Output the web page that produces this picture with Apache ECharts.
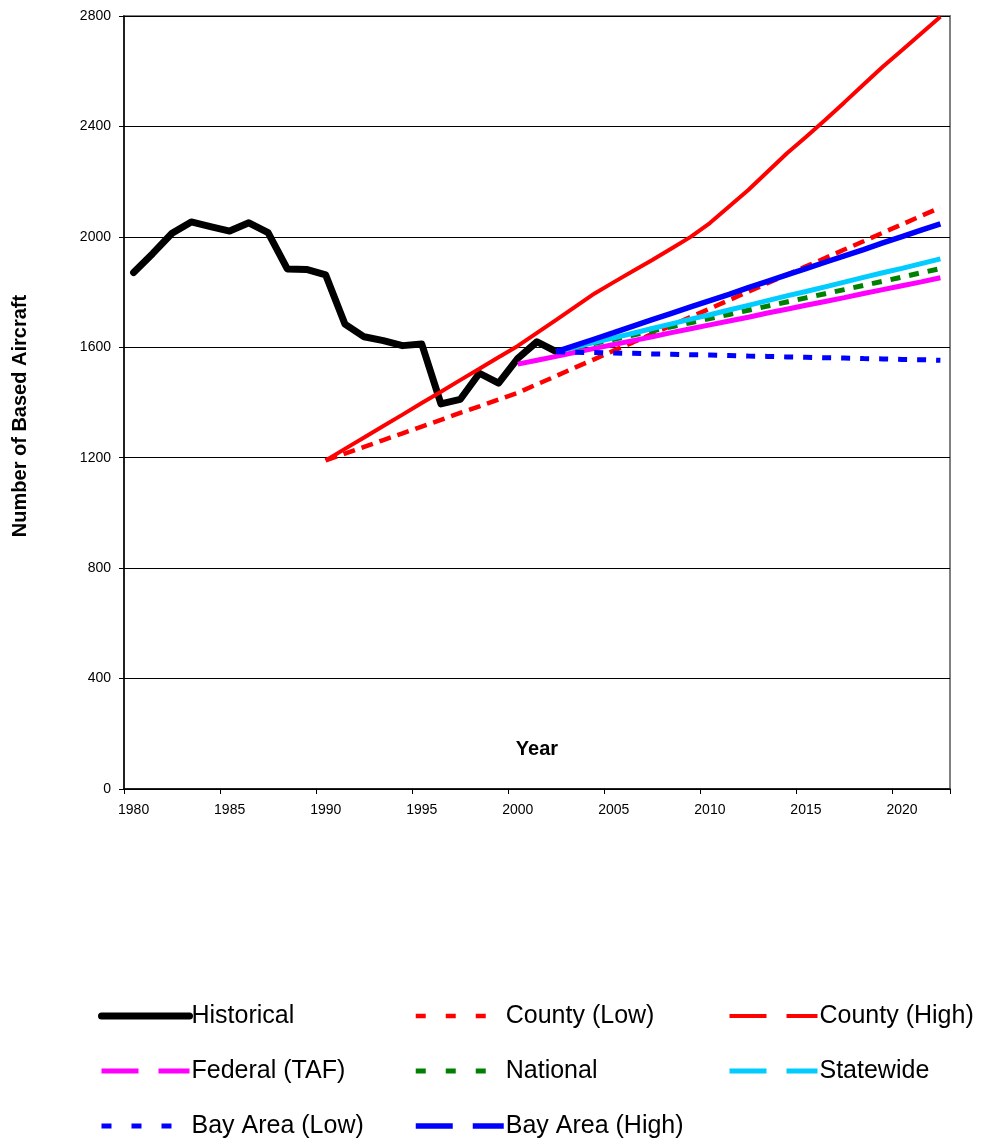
<!DOCTYPE html>
<html>
<head>
<meta charset="utf-8">
<script src="https://cdn.jsdelivr.net/npm/echarts@6/dist/echarts.min.js"></script>
<style>
html,body{margin:0;padding:0;background:#fff;}
#chart{width:986px;height:1142px;}
</style>
</head>
<body>
<div id="chart"></div>
<script>
const years = ['1980','1981','1982','1983','1984','1985','1986','1987','1988','1989',
  '1990','1991','1992','1993','1994','1995','1996','1997','1998','1999',
  '2000','2001','2002','2003','2004','2005','2006','2007','2008','2009',
  '2010','2011','2012','2013','2014','2015','2016','2017','2018','2019',
  '2020','2021','2022'];
const yTicks = [0, 400, 800, 1200, 1600, 2000, 2400, 2800];

// 1980-2002
const historical = [1871,1940,2013,2054,2037,2021,2051,2015,1884,1882,
  1862,1684,1638,1624,1606,1612,1395,1411,1506,1470,1560,1620,1584];
// 1990-2022
const countyLow = [1190,1215,1239,1264,1288,1313,1337,1362,1386,1411,
  1435,1466,1496,1527,1557,1588,1618,1649,1679,1710,1740,1771,1801,1832,
  1862,1893,1923,1954,1984,2015,2045,2076,2106];
// 1990-2022
const countyHigh = [1190,1232,1273,1315,1356,1398,1439,1481,1522,1564,
  1605,1652,1699,1747,1795,1836,1876,1916,1958,2000,2050,2110,2170,2236,
  2302,2362,2423,2487,2552,2616,2676,2737,2797];
// 2000-2022
const federal = [1539,1553,1567,1582,1596,1610,1624,1638,1653,1667,1681,
  1695,1709,1724,1738,1752,1766,1780,1795,1809,1823,1837,1852];
// 2002-2022
const national = [1584,1599,1614,1629,1644,1659,1674,1689,1704,1719,1734,
  1749,1764,1779,1794,1809,1824,1839,1854,1870,1885];
const statewide = [1584,1601,1618,1634,1651,1668,1685,1702,1718,1735,1752,
  1769,1786,1802,1819,1836,1853,1870,1886,1903,1920];
const bayLow = [1584,1582,1581,1579,1578,1576,1575,1573,1572,1570,1568,
  1567,1565,1564,1562,1561,1559,1558,1556,1555,1553];
const bayHigh = [1584,1607,1630,1653,1677,1700,1723,1746,1769,1792,1816,
  1839,1862,1885,1908,1931,1954,1978,2001,2024,2047];

function place(startYear, vals) {
  const out = years.map(() => null);
  const s = years.indexOf(String(startYear));
  vals.forEach((v, i) => { out[s + i] = v; });
  return out;
}

const FONT = '"Liberation Sans", Arial, sans-serif';

function line(name, data, color, width, type, extra) {
  return Object.assign({
    name: name, type: 'line', data: data, symbol: 'none', smooth: false,
    lineStyle: { color: color, width: width, type: type },
    itemStyle: { color: color },
    emphasis: { disabled: true }
  }, extra || {});
}

const series = [
  line('Historical', place(1980, historical), '#000000', 7, 'solid', { lineStyle: { color: '#000', width: 7, cap: 'round', join: 'round' }, z: 3 }),
  line('County (Low)', place(1990, countyLow), '#FF0000', 4.5, [12, 7]),
  line('County (High)', place(1990, countyHigh), '#FF0000', 4, 'solid'),
  line('Federal (TAF)', place(2000, federal), '#FF00FF', 5, 'solid'),
  line('National', place(2002, national), '#008000', 5, [10, 9]),
  line('Statewide', place(2002, statewide), '#00CCFF', 5, 'solid'),
  line('Bay Area (Low)', place(2002, bayLow), '#0000FF', 5, [9, 10]),
  line('Bay Area (High)', place(2002, bayHigh), '#0000FF', 5.5, 'solid')
];

const legendCommon = {
  orient: 'vertical', top: 1001, itemWidth: 88, itemHeight: 30, itemGap: 25,
  padding: 0, selectedMode: false,
  textStyle: { fontSize: 25, color: '#000', fontFamily: FONT, lineHeight: 30, padding: [0, 0, 0, -3] },
  lineStyle: { width: 'inherit' },
  itemStyle: { opacity: 0, borderWidth: 0 }
};
const longDash = { type: [37, 20] };
const shortDash = { type: [10, 20] };

const option = {
  animation: false,
  backgroundColor: '#fff',
  grid: { left: 124, top: 16, right: 36, bottom: 353, show: true, borderColor: '#808080', borderWidth: 2, containLabel: false },
  xAxis: {
    type: 'category', data: years, boundaryGap: true,
    axisLine: { lineStyle: { color: '#000', width: 1.5 } },
    axisTick: { show: true, interval: 4, length: 5, inside: false, lineStyle: { color: '#000' } },
    axisLabel: { interval: 4, fontSize: 14, color: '#000', fontFamily: FONT, margin: 14 },
    splitLine: { show: false }
  },
  yAxis: {
    type: 'value', min: yTicks[0], max: yTicks[yTicks.length - 1], interval: 400,
    axisLine: { show: true, lineStyle: { color: '#000', width: 1.5 } },
    axisTick: { show: true, length: 5, lineStyle: { color: '#000' } },
    axisLabel: { fontSize: 14, color: '#000', fontFamily: FONT, margin: 13, formatter: (v) => String(v) },
    splitLine: { show: true, lineStyle: { color: '#000', width: 1 } }
  },
  legend: [
    Object.assign({}, legendCommon, { left: 98, data: [
      { name: 'Historical' },
      { name: 'Federal (TAF)', lineStyle: longDash },
      { name: 'Bay Area (Low)', lineStyle: shortDash } ] }),
    Object.assign({}, legendCommon, { left: 413, data: [
      { name: 'County (Low)', lineStyle: shortDash },
      { name: 'National', lineStyle: shortDash },
      { name: 'Bay Area (High)', lineStyle: longDash } ] }),
    Object.assign({}, legendCommon, { left: 727, data: [
      { name: 'County (High)', lineStyle: longDash },
      { name: 'Statewide', lineStyle: longDash } ] })
  ],
  graphic: [
    { type: 'text', x: 20, y: 416, rotation: Math.PI / 2,
      style: { text: 'Number of Based Aircraft', font: 'bold 20px ' + FONT, fill: '#000', textAlign: 'center', textVerticalAlign: 'middle' } },
    { type: 'text', x: 537, y: 749,
      style: { text: 'Year', font: 'bold 20px ' + FONT, fill: '#000', textAlign: 'center', textVerticalAlign: 'middle' } }
  ],
  series: series
};

const chart = echarts.init(document.getElementById('chart'), null, { renderer: 'canvas' });
chart.setOption(option);
</script>
</body>
</html>
